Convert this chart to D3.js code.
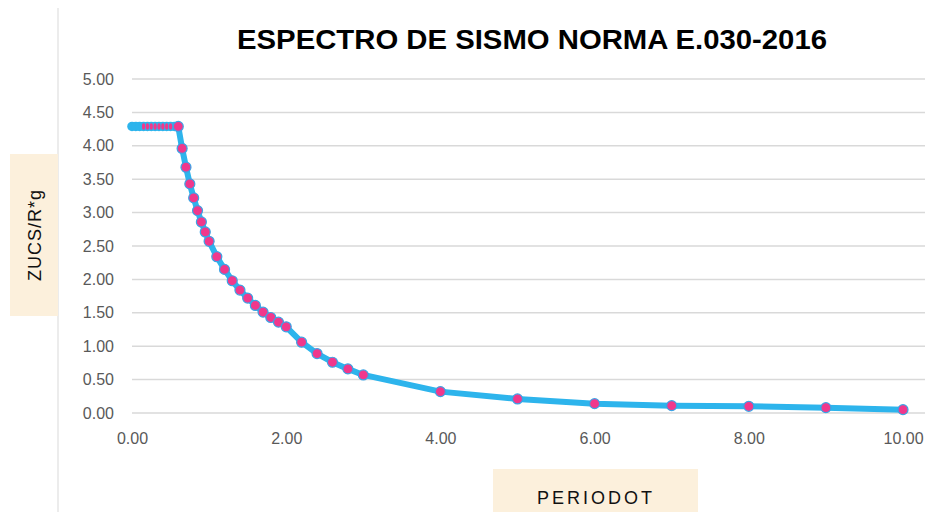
<!DOCTYPE html>
<html>
<head>
<meta charset="utf-8">
<script src="https://cdn.jsdelivr.net/npm/d3@7"></script>
<style>
  body { margin: 0; background: #fff; }
  svg { display: block; font-family: "Liberation Sans", Arial, sans-serif; }
</style>
</head>
<body>
<script>
// periods T (s) and spectral values ZUCS/R*g
const periods = [0.00, 0.05, 0.10, 0.15, 0.20, 0.25, 0.30, 0.35, 0.40, 0.45, 0.50, 0.55, 0.60,
  0.65, 0.70, 0.75, 0.80, 0.85, 0.90, 0.95, 1.00, 1.10, 1.20, 1.30, 1.40, 1.50, 1.60, 1.70,
  1.80, 1.90, 2.00, 2.20, 2.40, 2.60, 2.80, 3.00, 4.00, 5.00, 6.00, 7.00, 8.00, 9.00, 10.00];
const saValues = [4.29, 4.29, 4.29, 4.29, 4.29, 4.29, 4.29, 4.29, 4.29, 4.29, 4.29, 4.29, 4.29,
  3.96, 3.68, 3.43, 3.22, 3.03, 2.86, 2.71, 2.57, 2.34, 2.15, 1.98, 1.84, 1.72, 1.61, 1.51,
  1.43, 1.36, 1.29, 1.06, 0.89, 0.76, 0.66, 0.57, 0.32, 0.21, 0.14, 0.11, 0.10, 0.08, 0.05];
const yTicks = [0, 0.5, 1, 1.5, 2, 2.5, 3, 3.5, 4, 4.5, 5];
const xTicks = [0, 2, 4, 6, 8, 10];

const title = "ESPECTRO DE SISMO NORMA E.030-2016";
const yTitle = "ZUCS/R*g";
const xTitle = "PERIODOT";

const W = 930, H = 512;
const data = periods.map((t, i) => ({ t, v: saValues[i] }));

const svg = d3.select("body").append("svg")
  .attr("width", W).attr("height", H);

const x = d3.scaleLinear().domain([0, 10]).range([132, 903]);
const y = d3.scaleLinear().domain([0, 5]).range([413, 79]);

// thin frame line on the left
svg.append("line")
  .attr("x1", 58).attr("x2", 58).attr("y1", 8).attr("y2", H)
  .attr("stroke", "#d9d9d9").attr("stroke-width", 1);

// title
svg.append("text")
  .attr("x", 532).attr("y", 49)
  .attr("text-anchor", "middle")
  .attr("font-size", 27).attr("font-weight", "bold")
  .attr("textLength", 590).attr("lengthAdjust", "spacingAndGlyphs")
  .attr("fill", "#000")
  .text(title);

// gridlines
svg.append("g")
  .selectAll("line")
  .data(yTicks)
  .join("line")
  .attr("x1", 132).attr("x2", 925)
  .attr("y1", d => y(d)).attr("y2", d => y(d))
  .attr("stroke", "#d9d9d9").attr("stroke-width", 1.5);

// y axis labels
const yAxis = svg.append("g")
  .attr("transform", `translate(${x(0) - 18},0)`)
  .call(d3.axisLeft(y).tickValues(yTicks).tickFormat(d3.format(".2f")).tickSize(0).tickPadding(0));
yAxis.select(".domain").remove();
yAxis.selectAll("text")
  .attr("font-size", 16).attr("fill", "#595959")
  .attr("font-family", "Liberation Sans, Arial, sans-serif");

// x axis labels
const xAxis = svg.append("g")
  .attr("transform", `translate(0,${y(0) + 20})`)
  .call(d3.axisBottom(x).tickValues(xTicks).tickFormat(d3.format(".2f")).tickSize(0).tickPadding(0));
xAxis.select(".domain").remove();
xAxis.selectAll("text")
  .attr("font-size", 16).attr("fill", "#595959")
  .attr("font-family", "Liberation Sans, Arial, sans-serif");

// axis title boxes
svg.append("rect")
  .attr("x", 10).attr("y", 154).attr("width", 48).attr("height", 162)
  .attr("fill", "#fcf0dc");
svg.append("text")
  .attr("transform", "translate(41,235) rotate(-90)")
  .attr("text-anchor", "middle")
  .attr("font-size", 18).attr("fill", "#111")
  .attr("letter-spacing", 1)
  .text(yTitle);

svg.append("rect")
  .attr("x", 493).attr("y", 469).attr("width", 205).attr("height", 43)
  .attr("fill", "#fcf0dc");
svg.append("text")
  .attr("x", 596).attr("y", 504)
  .attr("text-anchor", "middle")
  .attr("font-size", 18).attr("fill", "#111")
  .attr("letter-spacing", 3)
  .text(xTitle);

// spectrum line
const line = d3.line().x(d => x(d.t)).y(d => y(d.v));
svg.append("path")
  .datum(data)
  .attr("d", line)
  .attr("fill", "none")
  .attr("stroke", "#2db4ec")
  .attr("stroke-width", 6)
  .attr("stroke-linejoin", "round")
  .attr("stroke-linecap", "round");

// plateau markers: dense, so they read as a thick band with small pink marks
const plateauAll = data.filter(d => d.t < 0.6);
const plateau = data.filter(d => d.t >= 0.15 && d.t < 0.6);
const main = data.filter(d => d.t >= 0.6);

svg.append("g")
  .selectAll("circle")
  .data(plateauAll)
  .join("circle")
  .attr("cx", d => x(d.t)).attr("cy", d => y(d.v))
  .attr("r", 4.8)
  .attr("fill", "#2db4ec");

svg.append("g")
  .selectAll("ellipse")
  .data(plateau)
  .join("ellipse")
  .attr("cx", d => x(d.t)).attr("cy", d => y(d.v))
  .attr("rx", 1.6).attr("ry", 3.2)
  .attr("fill", "#f0388c");

svg.append("g")
  .selectAll("circle")
  .data(main)
  .join("circle")
  .attr("cx", d => x(d.t)).attr("cy", d => y(d.v))
  .attr("r", 5)
  .attr("fill", "#f0388c")
  .attr("stroke", "#3ba4e6")
  .attr("stroke-width", 1.2);
</script>
</body>
</html>
